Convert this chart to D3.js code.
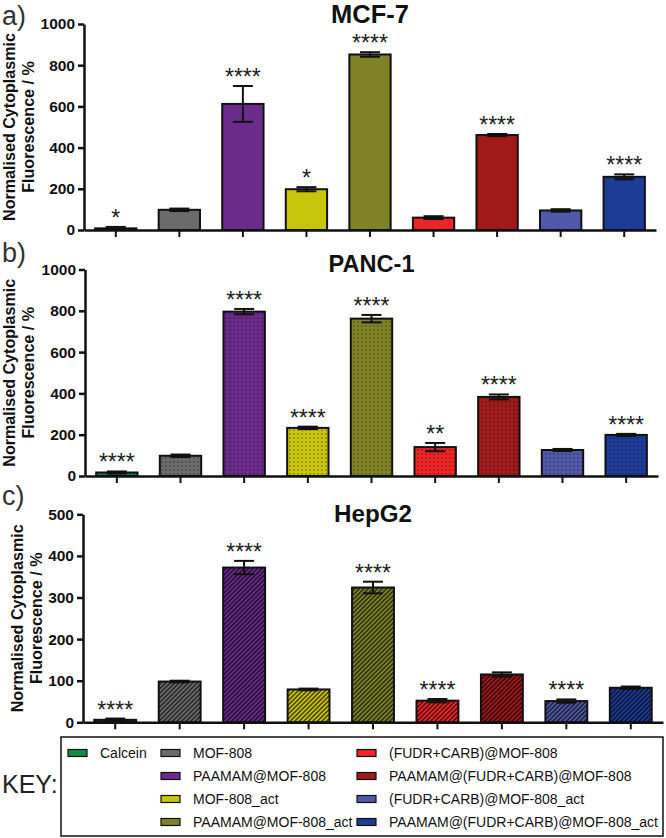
<!DOCTYPE html>
<html><head><meta charset="utf-8">
<script src="https://cdn.jsdelivr.net/npm/d3@7/dist/d3.min.js"></script>
<style>
body{margin:0;background:#fff}
svg{display:block}
text{font-family:"Liberation Sans",Arial,Helvetica,sans-serif}
</style>
</head><body>
<svg id="chart" width="666" height="838"></svg>
<script>
// ---------- DATA ----------
const categories = ["Calcein","MOF-808","PAAMAM@MOF-808","MOF-808_act","PAAMAM@MOF-808_act",
  "(FUDR+CARB)@MOF-808","PAAMAM@(FUDR+CARB)@MOF-808","(FUDR+CARB)@MOF-808_act","PAAMAM@(FUDR+CARB)@MOF-808_act"];

const mcf7Mean = [8, 98, 612, 198, 852, 60, 461, 95, 258];
const mcf7Err  = [7, 6, 87, 10, 11, 7, 5, 6, 12];
const mcf7Sig  = ["*","","****","*","****","","****","","****"];

const panc1Mean = [17, 98, 796, 233, 762, 140, 383, 126, 199];
const panc1Err  = [5, 6, 13, 6, 18, 20, 12, 5, 5];
const panc1Sig  = ["****","","****","****","****","**","****","","****"];

const hepg2Mean = [6, 98, 372, 79, 324, 52, 115, 51, 83];
const hepg2Err  = [3, 2, 16, 2, 14, 4, 5, 4, 3];
const hepg2Sig  = ["****","","****","","****","****","","****",""];

const ticks1000 = [0, 200, 400, 600, 800, 1000];
const ticks500  = [0, 100, 200, 300, 400, 500];

const panelTitles = ["MCF-7", "PANC-1", "HepG2"];
const panelLetters = ["a)", "b)", "c)"];
const yTitle = ["Normalised Cytoplasmic", "Fluorescence / %"];
const keyLabel = "KEY:";

// legend layout: [column, row] for each category
const legendSlots = [[0,0],[1,0],[1,1],[1,2],[1,3],[2,0],[2,1],[2,2],[2,3]];

// ---------- STYLE ----------
const colors = ["#138a48","#6b6b6b","#6b2b8b","#c9c40c","#7f8326","#ec2527","#a0191b","#5158a8","#1e3c96"];

const svg = d3.select("#chart");
const defs = svg.append("defs");

function fitWidth(sel, target) {
  const n = sel.node();
  const len = n.getComputedTextLength();
  const fs = parseFloat(sel.attr("font-size"));
  if (len > 0) sel.attr("font-size", (fs * target / len).toFixed(2));
}

// dot pattern
const dots = defs.append("pattern").attr("id","dots").attr("patternUnits","userSpaceOnUse")
  .attr("width",4).attr("height",4);
dots.append("circle").attr("cx",2).attr("cy",2).attr("r",0.65).attr("fill","rgba(0,0,0,0.6)");

// hatch pattern
const hatch = defs.append("pattern").attr("id","hatch").attr("patternUnits","userSpaceOnUse")
  .attr("width",3.2).attr("height",3.2).attr("patternTransform","rotate(45)");
hatch.append("line").attr("x1",1.6).attr("y1",0).attr("x2",1.6).attr("y2",3.2)
  .attr("stroke","rgba(0,0,0,0.75)").attr("stroke-width",1.3);

const panels = [
  {mean: mcf7Mean, err: mcf7Err, sig: mcf7Sig, ticks: ticks1000, max: 1000, overlay: null,
   left: 84, right: 656, top: 24, bottom: 230, titleY: 23, letterY: 25, ytX: 0, titleW: 78},
  {mean: panc1Mean, err: panc1Err, sig: panc1Sig, ticks: ticks1000, max: 1000, overlay: "url(#dots)",
   left: 85, right: 658, top: 269.5, bottom: 476, titleY: 272, letterY: 262, ytX: 0, titleW: 86},
  {mean: hepg2Mean, err: hepg2Err, sig: hepg2Sig, ticks: ticks500, max: 500, overlay: "url(#hatch)",
   left: 83, right: 663, top: 514.3, bottom: 722.3, titleY: 522, letterY: 505, ytX: 8, titleW: 78}
];

panels.forEach((p, pi) => {
  const g = svg.append("g");
  const x = d3.scaleBand().domain(categories).range([p.left, p.right])
    .paddingInner(0.35).paddingOuter(0.175);
  const y = d3.scaleLinear().domain([0, p.max]).range([p.bottom, p.top]);

  // panel letter
  g.append("text").attr("x", 2).attr("y", p.letterY).attr("font-size", 27)
    .attr("font-weight", 300).attr("fill", "#333").text(panelLetters[pi]);

  // title
  const tt = g.append("text").attr("x", (p.left + p.right) / 2).attr("y", p.titleY)
    .attr("text-anchor", "middle").attr("font-size", 24).attr("font-weight", "bold")
    .attr("fill", "#111").text(panelTitles[pi]);
  fitWidth(tt, p.titleW);

  // y axis title
  const cy = (p.top + p.bottom) / 2;
  let fs = null;
  yTitle.forEach((t, li) => {
    const bx = 15 + li * 19 + p.ytX;
    const tx = g.append("text").attr("transform", `translate(${bx},${cy}) rotate(-90)`)
      .attr("text-anchor", "middle").attr("font-size", 16.5).attr("font-weight", "bold")
      .attr("fill", "#111").text(t);
    if (li === 0) { fitWidth(tx, 188); fs = tx.attr("font-size"); }
    else tx.attr("font-size", fs);
  });

  // y axis
  const yAxis = d3.axisLeft(y).tickValues(p.ticks).tickFormat(d3.format("d"))
    .tickSize(6).tickPadding(3).tickSizeOuter(0);
  const ya = g.append("g").attr("transform", `translate(${p.left},0)`).call(yAxis);
  ya.attr("font-family", null).attr("font-size", null);
  ya.select(".domain").attr("stroke", "#111").attr("stroke-width", 2.5);
  ya.selectAll(".tick line").attr("stroke", "#111").attr("stroke-width", 2.5);
  ya.selectAll(".tick text").attr("font-size", 15.5).attr("font-weight", "bold").attr("fill", "#111");

  // bars
  const data = categories.map((c, i) => ({c, i, m: p.mean[i], e: p.err[i], s: p.sig[i]}));
  g.selectAll("rect.bar").data(data).enter().append("rect").attr("class", "bar")
    .attr("x", d => x(d.c)).attr("width", x.bandwidth())
    .attr("y", d => y(d.m)).attr("height", d => y(0) - y(d.m))
    .attr("fill", d => colors[d.i]);
  if (p.overlay) {
    g.selectAll("rect.ov").data(data).enter().append("rect").attr("class", "ov")
      .attr("x", d => x(d.c)).attr("width", x.bandwidth())
      .attr("y", d => y(d.m)).attr("height", d => y(0) - y(d.m))
      .attr("fill", p.overlay);
  }
  g.selectAll("rect.out").data(data).enter().append("rect").attr("class", "out")
    .attr("x", d => x(d.c)).attr("width", x.bandwidth())
    .attr("y", d => y(d.m)).attr("height", d => y(0) - y(d.m))
    .attr("fill", "none").attr("stroke", "#111").attr("stroke-width", 2);

  // error bars
  const cap = 10;
  const eg = g.selectAll("g.err").data(data).enter().append("g").attr("class", "err")
    .attr("stroke", "#111").attr("stroke-width", 2);
  eg.append("line").attr("x1", d => x(d.c) + x.bandwidth() / 2).attr("x2", d => x(d.c) + x.bandwidth() / 2)
    .attr("y1", d => y(Math.max(0, d.m - d.e))).attr("y2", d => y(d.m + d.e));
  eg.append("line").attr("x1", d => x(d.c) + x.bandwidth() / 2 - cap).attr("x2", d => x(d.c) + x.bandwidth() / 2 + cap)
    .attr("y1", d => y(d.m + d.e)).attr("y2", d => y(d.m + d.e));
  eg.append("line").attr("x1", d => x(d.c) + x.bandwidth() / 2 - cap).attr("x2", d => x(d.c) + x.bandwidth() / 2 + cap)
    .attr("y1", d => y(Math.max(0, d.m - d.e))).attr("y2", d => y(Math.max(0, d.m - d.e)));

  // x axis
  const xAxis = d3.axisBottom(x).tickSize(7).tickFormat("").tickSizeOuter(0);
  const xa = g.append("g").attr("transform", `translate(0,${y(0)})`).call(xAxis);
  xa.select(".domain").attr("stroke", "#111").attr("stroke-width", 2.5);
  xa.selectAll(".tick line").attr("stroke", "#111").attr("stroke-width", 2);

  // significance stars
  g.selectAll("text.sig").data(data.filter(d => d.s)).enter().append("text").attr("class", "sig")
    .attr("x", d => x(d.c) + x.bandwidth() / 2).attr("y", d => y(d.m + d.e) - 1)
    .attr("text-anchor", "middle").attr("font-size", 23).attr("fill", "#222").text(d => d.s);
});

// ---------- LEGEND ----------
const lg = svg.append("g");
lg.append("rect").attr("x", 61).attr("y", 737).attr("width", 602).attr("height", 99)
  .attr("fill", "none").attr("stroke", "#111").attr("stroke-width", 1.5);
lg.append("text").attr("x", 2).attr("y", 793).attr("font-size", 25).attr("font-weight", 300)
  .attr("fill", "#222").text(keyLabel);
const colX = [68, 161, 357];
const rowY = [753, 776, 799, 822];
categories.forEach((c, i) => {
  const [col, row] = legendSlots[i];
  lg.append("rect").attr("x", colX[col]).attr("y", rowY[row] - 3.5).attr("width", 19).attr("height", 7)
    .attr("fill", colors[i]).attr("stroke", "#111").attr("stroke-width", 1.2);
  lg.append("text").attr("x", colX[col] + 32).attr("y", rowY[row] + 5).attr("font-size", 14)
    .attr("fill", "#111").text(c);
});
</script>
</body></html>
